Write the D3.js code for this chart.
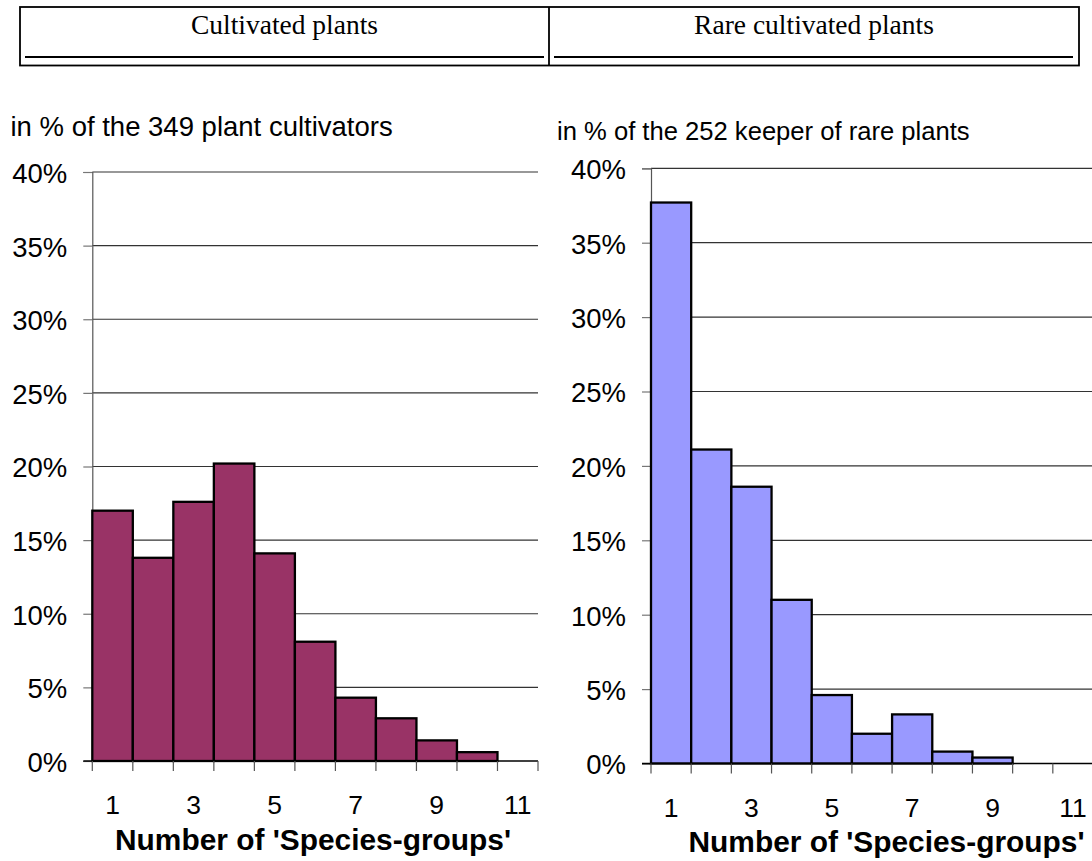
<!DOCTYPE html>
<html>
<head>
<meta charset="utf-8">
<script src="https://cdn.jsdelivr.net/npm/d3@7"></script>
<style>
  html, body { margin: 0; padding: 0; background: #fff; }
  svg { display: block; }
</style>
</head>
<body>
<svg id="chart" width="1092" height="861"></svg>
<script>
// Number of species-groups kept (1..11)
const categories = [1, 2, 3, 4, 5, 6, 7, 8, 9, 10, 11];
// Share of respondents per number of species-groups, in %
const cultivatedPct = [17.0, 13.8, 17.6, 20.2, 14.1, 8.1, 4.3, 2.9, 1.4, 0.6, 0];
const rarePct = [37.7, 21.1, 18.6, 11.0, 4.6, 2.0, 3.3, 0.8, 0.4, 0, 0];
// Axis ticks and labels
const yTicks = [0, 5, 10, 15, 20, 25, 30, 35, 40];
const xTickLabels = [1, 3, 5, 7, 9, 11];
const headerTitles = ["Cultivated plants", "Rare cultivated plants"];
const subtitles = ["in % of the 349 plant cultivators", "in % of the 252 keeper of rare plants"];
const xAxisTitle = "Number of 'Species-groups'";

const SANS = "'Liberation Sans', Arial, Helvetica, sans-serif";
const SERIF = "'Liberation Serif', 'Times New Roman', Times, serif";

const svg = d3.select("#chart");

// ---- header table ----
const header = svg.append("g");
header.append("rect")
  .attr("x", 20).attr("y", 7).attr("width", 1059).attr("height", 58.5)
  .attr("fill", "none").attr("stroke", "#000").attr("stroke-width", 1.8);
header.append("line")
  .attr("x1", 549).attr("x2", 549).attr("y1", 7).attr("y2", 65.5)
  .attr("stroke", "#000").attr("stroke-width", 1.8);
const cells = [{x0: 25, x1: 544, cx: 284.5}, {x0: 554, x1: 1073, cx: 814}];
cells.forEach((c, i) => {
  header.append("line")
    .attr("x1", c.x0).attr("x2", c.x1).attr("y1", 57).attr("y2", 57)
    .attr("stroke", "#000").attr("stroke-width", 1.8);
  header.append("text")
    .attr("x", c.cx).attr("y", 33.5)
    .attr("text-anchor", "middle")
    .attr("font-family", SERIF).attr("font-size", 27.5)
    .attr("fill", "#000")
    .text(headerTitles[i]);
});

// ---- histogram panels ----
const panels = [
  {values: cultivatedPct, color: "#993366", x0: 92.3, x1: 538, axisEnd: 538, gridEnd: 538,
   yTop: 172, yBottom: 761, subX: 10.5, subY: 136, subSize: 27.5,
   titleX: 313, titleY: 850, subtitle: subtitles[0]},
  {values: rarePct, color: "#9999FF", x0: 651, x1: 1093, axisEnd: 1092, gridEnd: 1092,
   yTop: 168.3, yBottom: 763.5, subX: 557, subY: 139.5, subSize: 25.6,
   titleX: 886.5, titleY: 851.5, subtitle: subtitles[1]}
];

panels.forEach(p => {
  const g = svg.append("g");
  const x = d3.scaleBand().domain(categories).range([p.x0, p.x1]).paddingInner(0).paddingOuter(0);
  const y = d3.scaleLinear().domain([0, 40]).range([p.yBottom, p.yTop]);

  // subtitle
  g.append("text")
    .attr("x", p.subX).attr("y", p.subY)
    .attr("font-family", SANS).attr("font-size", p.subSize).attr("fill", "#000")
    .text(p.subtitle);

  // horizontal gridlines
  g.append("g").selectAll("line")
    .data(yTicks.filter(d => d > 0))
    .join("line")
    .attr("x1", p.x0).attr("x2", p.gridEnd)
    .attr("y1", d => y(d)).attr("y2", d => y(d))
    .attr("stroke", "#333").attr("stroke-width", 1.2);

  // y axis with percent labels
  const yAxis = d3.axisLeft(y)
    .tickValues(yTicks)
    .tickFormat(d => d + "%")
    .tickSize(9)
    .tickPadding(16);
  const ya = g.append("g")
    .attr("transform", `translate(${p.x0},0)`)
    .call(yAxis);
  ya.select(".domain").attr("stroke", "#555").attr("stroke-width", 1.2);
  ya.selectAll(".tick line").attr("stroke", "#777").attr("stroke-width", 1.2);
  ya.selectAll(".tick text")
    .attr("font-family", SANS).attr("font-size", 27.5).attr("fill", "#000")
    .attr("dy", "0.38em");

  // bars
  g.append("g").selectAll("rect")
    .data(categories.map((c, i) => ({c, v: p.values[i]})).filter(d => d.v > 0))
    .join("rect")
    .attr("x", d => x(d.c))
    .attr("width", x.bandwidth())
    .attr("y", d => y(d.v))
    .attr("height", d => y(0) - y(d.v))
    .attr("fill", p.color)
    .attr("stroke", "#000").attr("stroke-width", 2.3);

  // x axis baseline
  g.append("line")
    .attr("x1", p.x0 - 9).attr("x2", p.axisEnd)
    .attr("y1", y(0)).attr("y2", y(0))
    .attr("stroke", "#000").attr("stroke-width", 1.6);

  // tick marks at band edges
  const edges = categories.map(c => x(c)).concat([x(categories[categories.length - 1]) + x.bandwidth()]);
  g.append("g").selectAll("line")
    .data(edges)
    .join("line")
    .attr("x1", d => d).attr("x2", d => d)
    .attr("y1", y(0)).attr("y2", y(0) + 10)
    .attr("stroke", "#555").attr("stroke-width", 1.2);

  // category labels (odd values) centred in their bands
  const xAxis = d3.axisBottom(x)
    .tickValues(xTickLabels)
    .tickSize(0)
    .tickPadding(0);
  const xa = g.append("g")
    .attr("transform", `translate(0,${y(0)})`)
    .call(xAxis);
  xa.select(".domain").remove();
  xa.selectAll(".tick text")
    .attr("font-family", SANS).attr("font-size", 26.5).attr("fill", "#000")
    .attr("dy", null)
    .attr("y", 53);

  // axis title
  g.append("text")
    .attr("x", p.titleX).attr("y", p.titleY)
    .attr("text-anchor", "middle")
    .attr("font-family", SANS).attr("font-size", 29).attr("font-weight", "bold")
    .attr("fill", "#000")
    .attr("textLength", 396).attr("lengthAdjust", "spacingAndGlyphs")
    .text(xAxisTitle);
});
</script>
</body>
</html>
